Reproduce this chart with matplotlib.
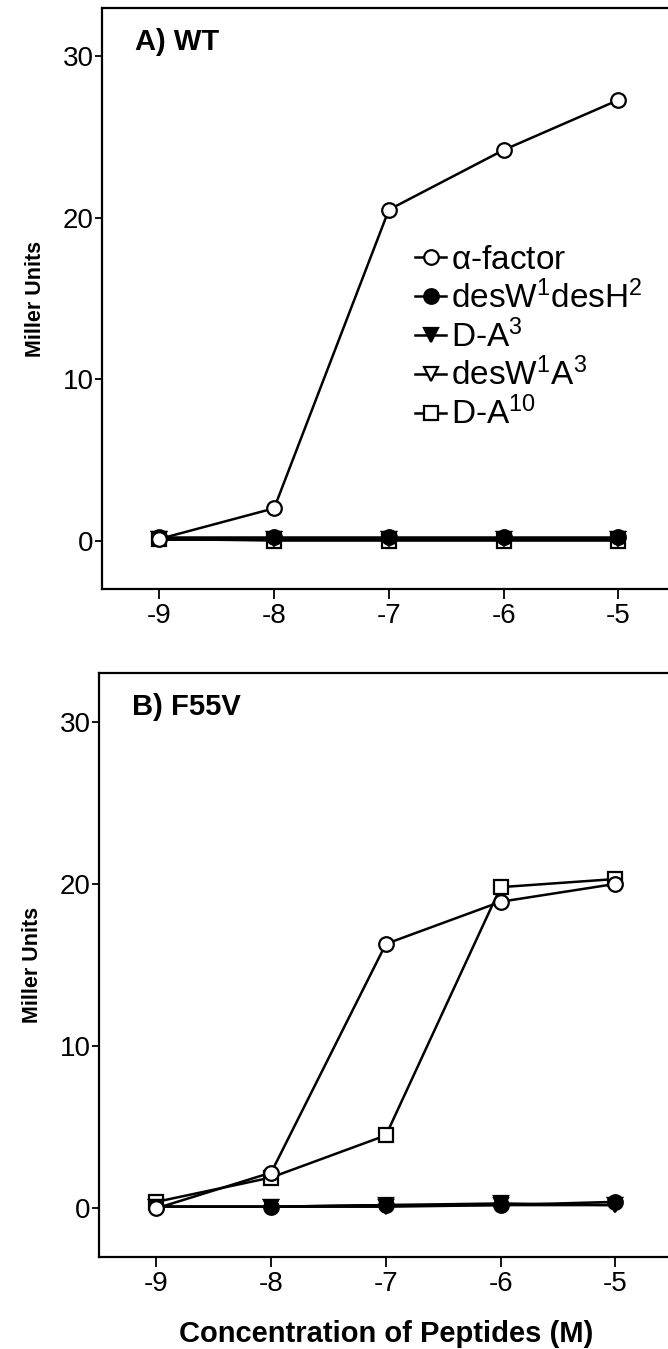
import matplotlib
matplotlib.use("Agg")
import matplotlib.pyplot as plt

plt.rcParams['font.family'] = ['Liberation Sans', 'DejaVu Sans']
plt.rcParams['mathtext.default'] = 'regular'

# log10 peptide concentration (M)
conc = [-9, -8, -7, -6, -5]

# Panel A) WT
wt_alpha = [0.1, 2.0, 20.5, 24.2, 27.3]
wt_desW1desH2 = [0.2, 0.2, 0.2, 0.2, 0.2]
wt_DA3 = [0.1, 0.1, 0.1, 0.1, 0.1]
wt_desW1A3 = [0.1, 0.1, 0.1, 0.1, 0.1]
wt_DA10 = [0.1, 0.0, 0.0, 0.0, 0.0]

# Panel B) F55V
f55v_alpha = [0.0, 2.2, 16.3, 18.9, 20.0]
f55v_desW1desH2 = [0.1, 0.1, 0.2, 0.2, 0.4]
f55v_DA3 = [0.1, 0.1, 0.2, 0.3, 0.2]
f55v_desW1A3 = [0.1, 0.1, 0.1, 0.2, 0.2]
f55v_DA10 = [0.4, 1.9, 4.5, 19.8, 20.3]

labels = [r'$\alpha$-factor', 'desW$^1$desH$^2$', 'D-A$^3$', 'desW$^1$A$^3$', 'D-A$^{10}$']
yticks = [0, 10, 20, 30]

fig = plt.figure(figsize=(6.68, 13.49), dpi=100)
ax_a = fig.add_axes([0.1527, 0.5634, 0.859, 0.4307])
ax_b = fig.add_axes([0.1482, 0.0682, 0.859, 0.4329])


def draw_panel(ax, alpha, dwdh, da3, dwa3, da10, title):
    ms = 10.5
    kw = dict(color='black', linewidth=1.8, markersize=ms, markeredgewidth=1.6,
              markeredgecolor='black')
    l5, = ax.plot(conc, da10, marker='s', markerfacecolor='white', zorder=2, **kw)
    l4, = ax.plot(conc, dwa3, marker='v', markerfacecolor='white', zorder=3, **kw)
    l3, = ax.plot(conc, da3, marker='v', markerfacecolor='black', zorder=4, **kw)
    l2, = ax.plot(conc, dwdh, marker='o', markerfacecolor='black', zorder=5, **kw)
    l1, = ax.plot(conc, alpha, marker='o', markerfacecolor='white', zorder=6, **kw)

    ax.set_xlim(-9.5, -4.5)
    ax.set_ylim(-3, 33)
    ax.set_xticks(conc)
    ax.set_xticklabels([str(c) for c in conc])
    ax.set_yticks(yticks)
    ax.tick_params(axis='both', direction='out', labelsize=20, width=1.3)
    ax.tick_params(axis='x', length=7, pad=3)
    ax.tick_params(axis='y', length=5, pad=1)
    for sp in ax.spines.values():
        sp.set_linewidth(1.6)
    ax.set_ylabel('Miller Units', fontsize=15.5, fontweight='bold', labelpad=12)
    ax.text(0.058, 0.965, title, transform=ax.transAxes, fontsize=21,
            fontweight='bold', va='top', ha='left')
    return [l1, l2, l3, l4, l5]


handles = draw_panel(ax_a, wt_alpha, wt_desW1desH2, wt_DA3, wt_desW1A3, wt_DA10, 'A) WT')
draw_panel(ax_b, f55v_alpha, f55v_desW1desH2, f55v_DA3, f55v_desW1A3, f55v_DA10, 'B) F55V')

ax_a.legend(handles, labels, loc='upper left', bbox_to_anchor=(0.545, 0.592),
            frameon=False, fontsize=24, handlelength=0.95, handletextpad=0.15,
            labelspacing=0.13, borderpad=0, borderaxespad=0)

ax_b.set_xlabel('Concentration of Peptides (M)', fontsize=21, fontweight='bold',
                labelpad=17)

fig.savefig('out.png', dpi=100)
